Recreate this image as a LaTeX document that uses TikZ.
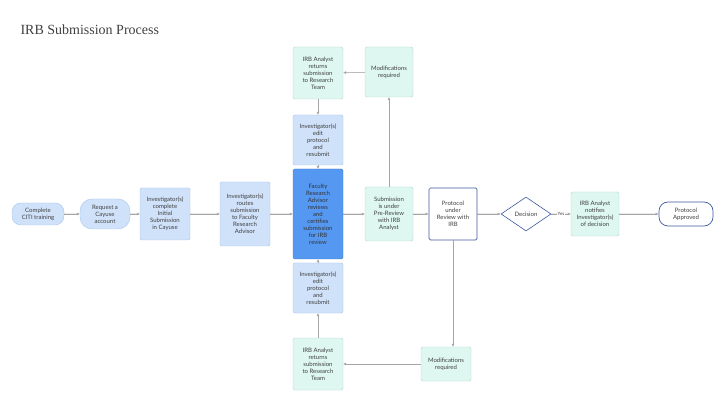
\documentclass[tikz,border=0pt]{standalone}
\usepackage{fontspec}
\setmainfont{Lato}
\newfontfamily\titlefont{Liberation Serif}
\usetikzlibrary{shapes.geometric,arrows.meta}
\definecolor{lblue}{RGB}{208,226,250}
\definecolor{lbluedraw}{RGB}{165,195,235}
\definecolor{teal}{RGB}{222,248,241}
\definecolor{tealdraw}{RGB}{175,215,205}
\definecolor{sblue}{RGB}{85,152,242}
\definecolor{dblue}{RGB}{60,90,160}
\begin{document}
\begin{tikzpicture}[x=1pt,y=-1pt,
  box/.style={rectangle,rounded corners=1.5pt,draw=lbluedraw,fill=lblue,align=center,font=\fontsize{6}{7}\selectfont,inner sep=1pt,text=black!75},
  tbox/.style={box,draw=tealdraw,fill=teal},
  pill/.style={box,rounded corners=9pt},
  flow/.style={-{Latex[length=3pt,width=3pt]},draw=gray!70,line width=0.5pt,color=gray!70,fill=black!70}]
  \useasboundingbox (0,0) rectangle (720,403);
  \node[anchor=west,font=\titlefont\fontsize{14}{16}\selectfont,text=black!75] (title) at (17,30) {IRB Submission Process};

  %main row
  \node (citi) at (38,214)[pill,minimum width=52,minimum height=22]{Complete\\CITI training};
  \node (cay) at (105,214)[pill,minimum width=50,minimum height=30,rounded corners=12pt]{Request a\\Cayuse\\account};
  \node (init) at (165,214)[box,minimum width=50,minimum height=52]{Investigator(s)\\complete\\Initial\\Submission\\in Cayuse};
  \node (route) at (245,214)[box,minimum width=50,minimum height=64]{Investigator(s)\\routes\\submission\\to Faculty\\Research\\Advisor};
  \node (fac) at (318,214)[box,fill=sblue,draw=sblue!80!black,minimum width=50,minimum height=90,text=black!80]{Faculty\\Research\\Advisor\\reviews\\and\\certifies\\submission\\for IRB\\review};
  \node (pre) at (389,214)[tbox,minimum width=48,minimum height=54]{Submission\\is under\\Pre-Review\\with IRB\\Analyst};
  \node (prot) at (453,214)[box,fill=white,draw=dblue,line width=0.7pt,minimum width=48,minimum height=52]{Protocol\\under\\Review with\\IRB};
  \node (dec) at (526,214)[diamond,draw=dblue,line width=0.6pt,fill=white,aspect=1.5,inner sep=1pt,minimum width=50,minimum height=34,font=\fontsize{6}{7}\selectfont,text=black!75]{Decision};
  \node (notif) at (595,214)[tbox,minimum width=48,minimum height=44]{IRB Analyst\\notifies\\Investigator(s)\\of decision};
  \node (appr) at (686,214)[pill,fill=white,draw=dblue,line width=0.7pt,minimum width=54,minimum height=24]{Protocol\\Approved};

  %upper loop
  \node (edt) at (318,140)[box,minimum width=50,minimum height=50]{Investigator(s)\\edit\\protocol\\and\\resubmit};
  \node (rett) at (318,73)[tbox,minimum width=50,minimum height=52]{IRB Analyst\\returns\\submission\\to Research\\Team};
  \node (modt) at (389,72)[tbox,minimum width=48,minimum height=50]{Modifications\\required};

  %lower loop
  \node (edb) at (318,288)[box,minimum width=50,minimum height=50]{Investigator(s)\\edit\\protocol\\and\\resubmit};
  \node (retb) at (318,364)[tbox,minimum width=50,minimum height=52]{IRB Analyst\\returns\\submission\\to Research\\Team};
  \node (modb) at (446,364)[tbox,minimum width=50,minimum height=34]{Modifications\\required};

  \draw[flow] (citi) -- (cay);
  \draw[flow] (cay) -- (init);
  \draw[flow] (init) -- (route);
  \draw[flow] (route) -- (fac);
  \draw[flow] (fac) -- (pre);
  \draw[flow] (pre) -- (prot);
  \draw[flow] (prot) -- (dec);
  \draw[flow] (dec) -- node[fill=white,inner sep=0.5pt,font=\fontsize{4.5}{5}\selectfont,text=black!75]{Yes} (notif);
  \draw[flow] (notif) -- (appr);

  \draw[flow] (pre) -- (modt);
  \draw[flow] (modt) -- (rett);
  \draw[flow] (rett) -- (edt);
  \draw[flow] (edt) -- (fac);

  \draw[flow] (prot.south) -- (prot.south |- modb.north);
  \draw[flow] (modb) -- (retb);
  \draw[flow] (retb) -- (edb);
  \draw[flow] (edb) -- (fac);
\end{tikzpicture}
\end{document}
